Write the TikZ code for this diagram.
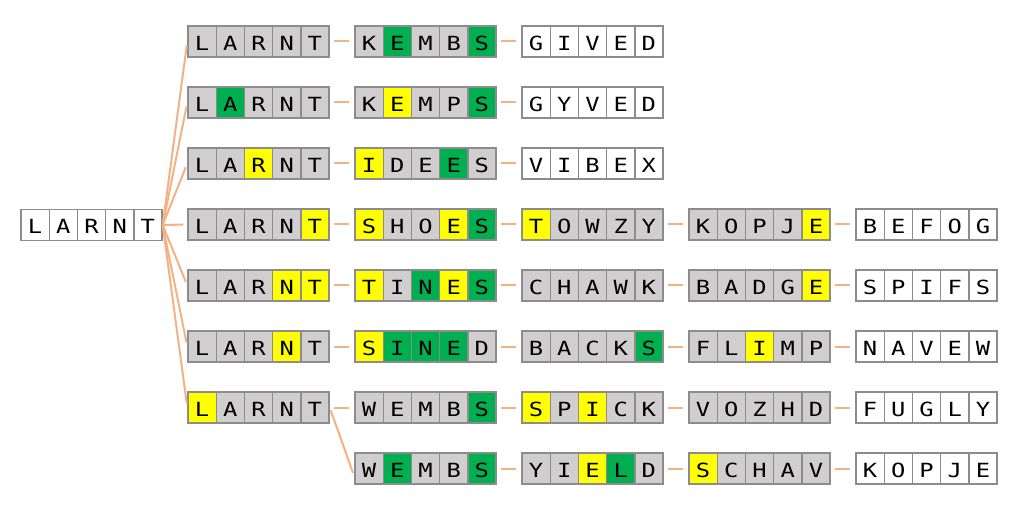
\documentclass[tikz,border=0pt]{standalone}
\usepackage{fontspec}
\newfontfamily\cellfont[FakeStretch=1.22]{DejaVu Sans Mono}
\definecolor{gy}{HTML}{D0CECE}
\definecolor{gn}{HTML}{00B050}
\definecolor{yl}{HTML}{FFFF00}
\definecolor{wh}{HTML}{FFFFFF}
\definecolor{rim}{HTML}{8C8C8C}
\definecolor{linkc}{HTML}{F4B183}

% name, left x, centre y, letter/colour list
\newcommand{\wordbox}[4]{%
  \foreach \ch/\col [count=\i] in {#4}
    \node[cell, fill=\col] (#1-\i) at ({#2+14.1+(\i-1)*28.2},#3) {\ch};
}

\begin{document}
\begin{tikzpicture}[x=1pt, y=-1pt]
    \tikzset{cell/.style={draw=rim, line width=1.4pt, minimum width=28.2pt, minimum height=31pt, inner sep=0pt, text height=18pt, text depth=0pt, font=\cellfont\fontsize{19.5}{19.5}\selectfont}}
    \tikzset{conn/.style={draw=linkc, line width=2pt}}
    \useasboundingbox (0,0) rectangle (1024,510);
    \wordbox{root}{21}{225}{L/wh,A/wh,R/wh,N/wh,T/wh}
    % row 1
    \wordbox{w11}{188}{41.5}{L/gy,A/gy,R/gy,N/gy,T/gy}
    \wordbox{w12}{355}{41.5}{K/gy,E/gn,M/gy,B/gy,S/gn}
    \wordbox{w13}{522}{41.5}{G/wh,I/wh,V/wh,E/wh,D/wh}
    % row 2
    \wordbox{w21}{188}{102.5}{L/gy,A/gn,R/gy,N/gy,T/gy}
    \wordbox{w22}{355}{102.5}{K/gy,E/yl,M/gy,P/gy,S/gn}
    \wordbox{w23}{522}{102.5}{G/wh,Y/wh,V/wh,E/wh,D/wh}
    % row 3
    \wordbox{w31}{188}{163.5}{L/gy,A/gy,R/yl,N/gy,T/gy}
    \wordbox{w32}{355}{163.5}{I/yl,D/gy,E/gy,E/gn,S/gy}
    \wordbox{w33}{522}{163.5}{V/wh,I/wh,B/wh,E/wh,X/wh}
    % row 4
    \wordbox{w41}{188}{224.5}{L/gy,A/gy,R/gy,N/gy,T/yl}
    \wordbox{w42}{355}{224.5}{S/yl,H/gy,O/gy,E/yl,S/gn}
    \wordbox{w43}{522}{224.5}{T/yl,O/gy,W/gy,Z/gy,Y/gy}
    \wordbox{w44}{689}{224.5}{K/gy,O/gy,P/gy,J/gy,E/yl}
    \wordbox{w45}{856}{224.5}{B/wh,E/wh,F/wh,O/wh,G/wh}
    % row 5
    \wordbox{w51}{188}{285.5}{L/gy,A/gy,R/gy,N/yl,T/yl}
    \wordbox{w52}{355}{285.5}{T/yl,I/gy,N/gn,E/yl,S/gn}
    \wordbox{w53}{522}{285.5}{C/gy,H/gy,A/gy,W/gy,K/gy}
    \wordbox{w54}{689}{285.5}{B/gy,A/gy,D/gy,G/gy,E/yl}
    \wordbox{w55}{856}{285.5}{S/wh,P/wh,I/wh,F/wh,S/wh}
    % row 6
    \wordbox{w61}{188}{346.5}{L/gy,A/gy,R/gy,N/yl,T/gy}
    \wordbox{w62}{355}{346.5}{S/yl,I/gn,N/gn,E/gn,D/gy}
    \wordbox{w63}{522}{346.5}{B/gy,A/gy,C/gy,K/gy,S/gn}
    \wordbox{w64}{689}{346.5}{F/gy,L/gy,I/yl,M/gy,P/gy}
    \wordbox{w65}{856}{346.5}{N/wh,A/wh,V/wh,E/wh,W/wh}
    % row 7
    \wordbox{w71}{188}{407.5}{L/yl,A/gy,R/gy,N/gy,T/gy}
    \wordbox{w72}{355}{407.5}{W/gy,E/gy,M/gy,B/gy,S/gn}
    \wordbox{w73}{522}{407.5}{S/yl,P/gy,I/yl,C/gy,K/gy}
    \wordbox{w74}{689}{407.5}{V/gy,O/gy,Z/gy,H/gy,D/gy}
    \wordbox{w75}{856}{407.5}{F/wh,U/wh,G/wh,L/wh,Y/wh}
    % row 8
    \wordbox{w82}{355}{468.5}{W/gy,E/gn,M/gy,B/gy,S/gn}
    \wordbox{w83}{522}{468.5}{Y/gy,I/gy,E/yl,L/gn,D/gy}
    \wordbox{w84}{689}{468.5}{S/yl,C/gy,H/gy,A/gy,V/gy}
    \wordbox{w85}{856}{468.5}{K/wh,O/wh,P/wh,J/wh,E/wh}
    % links
    \foreach \r in {1,...,7}
        \draw[conn, shorten >=4pt] (root-5.east) -- (w\r1-1.west);
    \draw[conn, shorten <=3pt, shorten >=4pt] (w71-5.east) -- ([yshift=-8pt]w82-1.west);
    \foreach \a/\b in {w11/w12,w12/w13,w21/w22,w22/w23,w31/w32,w32/w33,
        w41/w42,w42/w43,w43/w44,w44/w45,w51/w52,w52/w53,w53/w54,w54/w55,
        w61/w62,w62/w63,w63/w64,w64/w65,w71/w72,w72/w73,w73/w74,w74/w75,
        w82/w83,w83/w84,w84/w85}
        \draw[conn, shorten <=4pt, shorten >=5pt] (\a-5.east) -- (\b-1.west);
\end{tikzpicture}
\end{document}
